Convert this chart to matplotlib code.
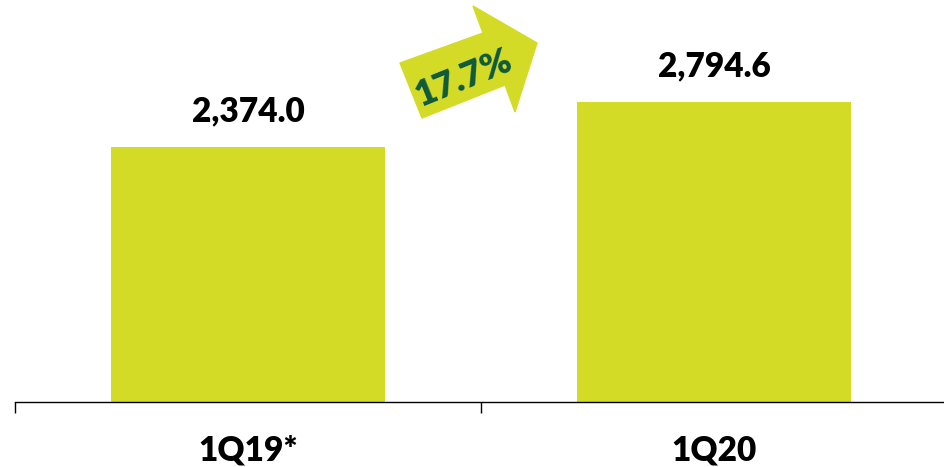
import matplotlib.pyplot as plt
from matplotlib.patches import Polygon

categorias = ["1Q19*", "1Q20"]
valores = [2374.0, 2794.6]
crecimiento = "17.7%"

verde = "#D4DB27"
verde_oscuro = "#0E5A3A"
fuente = ["Lato", "DejaVu Sans"]

W, H = 944, 467
fig = plt.figure(figsize=(W / 100, H / 100), dpi=100)
ax = fig.add_axes([15 / W, (H - 402) / H, 932 / W, 402 / H])

x = range(len(categorias))
barras = ax.bar(x, valores, width=0.588, color=verde)
for b, v in zip(barras, valores):
    ax.annotate(f"{v:,.1f}", (b.get_x() + b.get_width() / 2, v),
                xytext=(0, 14), textcoords="offset points",
                ha="center", va="bottom", fontsize=24, fontweight="heavy",
                family=fuente, color="black")

ax.set_xlim(-0.5, 1.5)
ax.set_ylim(0, 3745)
ax.set_yticks([])
ax.set_xticks([-0.5, 0.5, 1.5])
ax.set_xticklabels([])
ax.tick_params(axis="x", length=8, width=1, color="black")
for s in ["top", "right", "left"]:
    ax.spines[s].set_visible(False)
ax.spines["bottom"].set_color("black")
ax.spines["bottom"].set_linewidth(1)

for i, c in enumerate(categorias):
    ax.text(i, -0.12, c, transform=ax.get_xaxis_transform(), ha="center",
            va="center", fontsize=24, fontweight="heavy", family=fuente)

# flecha de crecimiento (pixeles de la imagen)
puntos = [(400, 63), (483, 33), (473, 6), (537, 43), (515, 112), (505, 85), (422, 118)]
flecha = Polygon([(px / W, 1 - py / H) for px, py in puntos], closed=True,
                 transform=fig.transFigure, color=verde, zorder=5)
fig.patches.append(flecha)
fig.text(463 / W, 1 - 78 / H, crecimiento, rotation=22, ha="center", va="center",
         fontsize=26, fontweight="heavy", family=fuente, color=verde_oscuro, zorder=6)

plt.savefig("out.png", dpi=100)
